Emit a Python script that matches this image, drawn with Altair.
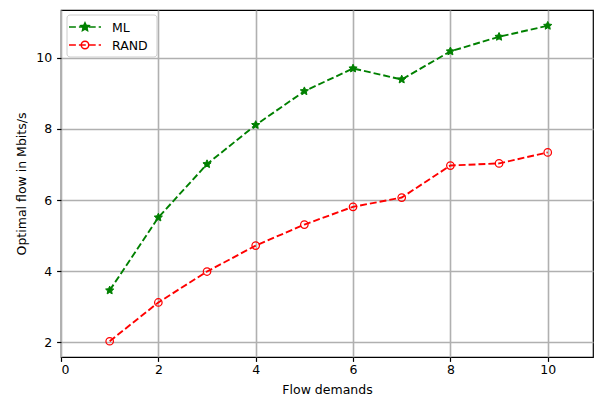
import math
import altair as alt
import pandas as pd

# Flow demands and the optimal flow reached by each placement strategy
demands = [1, 2, 3, 4, 5, 6, 7, 8, 9, 10]
ml_flow = [3.46, 5.51, 7.01, 8.11, 9.06, 9.70, 9.39, 10.18, 10.59, 10.90]
rand_flow = [2.03, 3.12, 3.99, 4.72, 5.31, 5.81, 6.07, 6.97, 7.03, 7.34]
series_names = ["ML", "RAND"]
series_colors = ["green", "red"]

df = pd.DataFrame(
    {
        "demand": demands * 2,
        "flow": ml_flow + rand_flow,
        "series": ["ML"] * len(demands) + ["RAND"] * len(demands),
    }
)
legend_df = pd.DataFrame({"series": series_names})

FONT = "DejaVu Sans"
MARKER_SIZE = 56  # symbol area; unit radius = sqrt(56)/2 px
UNIT = math.sqrt(MARKER_SIZE) / 2
DASH = [6.9, 3.0]


def star_path(outer=1.15, inner=0.55):
    pts = []
    for i in range(10):
        r = outer if i % 2 == 0 else inner
        a = -math.pi / 2 + i * math.pi / 5
        pts.append((r * math.cos(a), r * math.sin(a)))
    return "M" + "L".join(f"{x:.3f},{y:.3f}" for x, y in pts) + "Z"


CIRCLE = "M1,0A1,1,0,1,1,-1,0A1,1,0,1,1,1,0Z"


def handle_segments(half=16.0):
    # dashed handle centred on the marker, lengths in px converted to path units
    segs = []
    pos = 0.0
    total = 2 * half
    on = True
    while pos < total:
        step = DASH[0] if on else DASH[1]
        end = min(pos + step, total)
        if on:
            segs.append((pos - half, end - half))
        pos = end
        on = not on
    return "".join(f"M{a / UNIT:.3f},0H{b / UNIT:.3f}" for a, b in segs)


STAR = star_path()
handle_shapes = {"ML": handle_segments() + STAR, "RAND": handle_segments() + CIRCLE}
handle_filled = {"ML": True, "RAND": False}

x_scale = alt.Scale(domain=[0, 10.93], nice=False, zero=False)
y_scale = alt.Scale(domain=[1.587, 11.343], nice=False, zero=False)
color_scale = alt.Scale(domain=series_names, range=series_colors)

x_enc = alt.X(
    "demand:Q",
    scale=x_scale,
    title="Flow demands",
    axis=alt.Axis(values=[0, 2, 4, 6, 8, 10], titleY=36, titleBaseline="alphabetic", labelPadding=2),
)
y_enc = alt.Y(
    "flow:Q",
    scale=y_scale,
    title="Optimal flow in Mbits/s",
    axis=alt.Axis(values=[2, 4, 6, 8, 10], titleX=-36, titleBaseline="alphabetic", labelPadding=5),
)

lines = alt.Chart(df).mark_line(strokeDash=DASH, strokeWidth=1.9).encode(
    x=x_enc,
    y=y_enc,
    color=alt.Color("series:N", scale=color_scale, legend=None),
    detail="series:N",
)

ml_points = (
    alt.Chart(df)
    .transform_filter(alt.datum.series == "ML")
    .mark_point(shape=STAR, filled=True, size=MARKER_SIZE, color="green", strokeWidth=1, stroke="green", opacity=1)
    .encode(x=x_enc, y=y_enc)
)

rand_points = (
    alt.Chart(df)
    .transform_filter(alt.datum.series == "RAND")
    .mark_point(shape="circle", filled=False, size=MARKER_SIZE, color="red", strokeWidth=1.25, opacity=1)
    .encode(x=x_enc, y=y_enc)
)

# Legend panel in the upper-left corner of the plot
LEG_LEFT, LEG_TOP, LEG_W, ROW_H = 6, 5, 90, 18
FIRST_ROW = LEG_TOP + 12
legend_box = (
    alt.Chart(legend_df.head(1))
    .mark_rect(fill="white", fillOpacity=0.8, stroke="#cccccc", strokeWidth=1, cornerRadius=3)
    .encode(
        x=alt.value(LEG_LEFT),
        x2=alt.value(LEG_LEFT + LEG_W),
        y=alt.value(LEG_TOP),
        y2=alt.value(FIRST_ROW + ROW_H * (len(series_names) - 1) + 12),
    )
)

legend_layers = [legend_box]
for i, (name, colr) in enumerate(zip(series_names, series_colors)):
    row_y = FIRST_ROW + ROW_H * i
    row_data = alt.Chart(legend_df).transform_filter(alt.datum.series == name)
    legend_layers.append(
        row_data.mark_point(
            shape=handle_shapes[name],
            filled=handle_filled[name],
            size=MARKER_SIZE,
            color=colr,
            stroke=colr,
            strokeWidth=1.5,
            opacity=1,
        ).encode(x=alt.value(LEG_LEFT + 18), y=alt.value(row_y))
    )
    legend_layers.append(
        row_data.mark_text(
            align="left", baseline="middle", font=FONT, fontSize=12.5, color="black"
        ).encode(x=alt.value(LEG_LEFT + 45), y=alt.value(row_y + 1), text="series:N")
    )

chart = (
    alt.layer(lines, ml_points, rand_points, *legend_layers)
    .properties(
        width=532,
        height=347,
        autosize=alt.AutoSizeParams(type="none"),
        padding={"left": 61, "top": 10, "right": 6, "bottom": 39},
    )
    .configure_view(stroke="black", strokeWidth=1.2)
    .configure_axis(
        labelFont=FONT,
        labelFontSize=12.5,
        labelColor="black",
        titleFont=FONT,
        titleFontSize=12.5,
        titleFontWeight="normal",
        titleColor="black",
        domain=False,
        tickColor="black",
        tickSize=4.4,
        tickWidth=1.2,
        gridColor="#b0b0b0",
        gridWidth=1.6,
        gridOpacity=1,
    )
)

chart.save("out.html", embed_options={"renderer": "svg", "actions": False})
